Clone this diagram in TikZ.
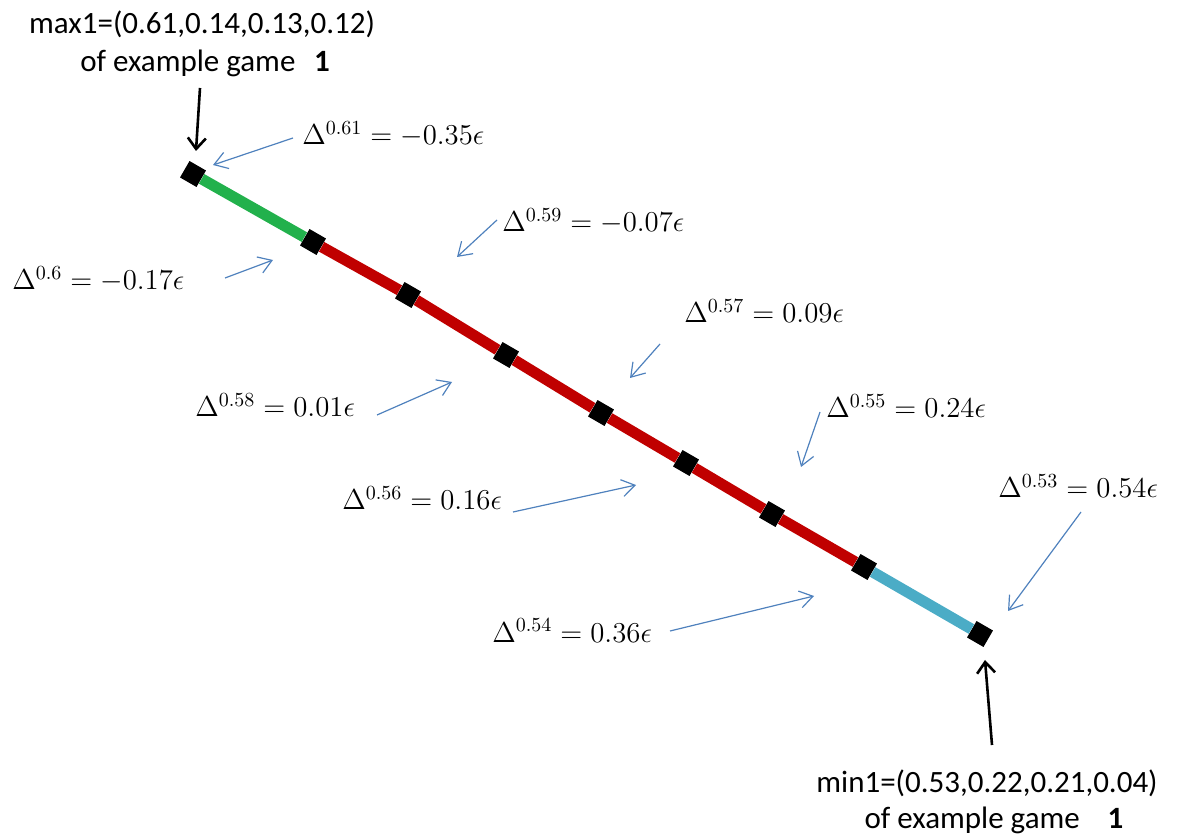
\documentclass[tikz,border=0pt]{standalone}
\usepackage{fontspec}
\newfontfamily\carl{Carlito}
\usetikzlibrary{arrows.meta}
\definecolor{lgreen}{RGB}{34,177,76}
\definecolor{lred}{RGB}{192,0,0}
\definecolor{laqua}{RGB}{75,172,198}
\definecolor{lblue}{RGB}{79,129,189}
\begin{document}
\begin{tikzpicture}[x=0.5pt,y=-0.5pt,
  seg/.style={line width=5.5pt},
  sq/.style={fill=black,minimum size=9.5pt,inner sep=0pt,rotate=-30},
  dlbl/.style={font=\fontsize{14.4}{17}\selectfont,inner sep=0pt,anchor=base west},
  glbl/.style={font=\carl\fontsize{15.5}{19}\selectfont,inner sep=0pt,anchor=base},
  barrow/.style={draw=lblue,line width=0.6pt,-{Straight Barb[length=6.5pt,width=8.5pt]}},
  karrow/.style={draw=black,line width=1.3pt,-{Straight Barb[length=5.5pt,width=9pt,line width=1.3pt]}}]
\useasboundingbox (0,0) rectangle (1177,838);

% squares on the segment
\node[sq] (s1) at (193,174) {};
\node[sq] (s2) at (313,242) {};
\node[sq] (s3) at (408,295) {};
\node[sq] (s4) at (506,355) {};
\node[sq] (s5) at (601,413) {};
\node[sq] (s6) at (686,463) {};
\node[sq] (s7) at (772,514) {};
\node[sq] (s8) at (864,567) {};
\node[sq] (s9) at (980,634) {};

\draw[seg,lgreen] (s1) -- (s2);
\foreach \a/\b in {s2/s3,s3/s4,s4/s5,s5/s6,s6/s7,s7/s8}
  \draw[seg,lred] (\a) -- (\b);
\draw[seg,laqua] (s8) -- (s9);

% top and bottom captions
\node[glbl] (maxA) at (202,34) {max1=(0.61,0.14,0.13,0.12)};
\node[glbl] (maxB) at (205,72) {of example game\hspace{0.6em}\textbf{1}};
\node[glbl] (minA) at (987,792) {min1=(0.53,0.22,0.21,0.04)};
\node[glbl] (minB) at (994,828) {of example game\hspace{0.9em}\textbf{1}};

\coordinate (tA) at (200,88);
\coordinate (tB) at (196,151);
\coordinate (bA) at (992,745);
\coordinate (bB) at (985,660);
\draw[karrow] (tA) -- (tB);
\draw[karrow] (bA) -- (bB);

% delta labels
\node[dlbl] (L61) at (302,145) {$\Delta^{0.61}=-0.35\epsilon$};
\node[dlbl] (L60) at (12,290) {$\Delta^{0.6}=-0.17\epsilon$};
\node[dlbl] (L59) at (502,232) {$\Delta^{0.59}=-0.07\epsilon$};
\node[dlbl] (L57) at (684,323) {$\Delta^{0.57}=0.09\epsilon$};
\node[dlbl] (L58) at (195,417) {$\Delta^{0.58}=0.01\epsilon$};
\node[dlbl] (L55) at (826,418) {$\Delta^{0.55}=0.24\epsilon$};
\node[dlbl] (L56) at (342,510) {$\Delta^{0.56}=0.16\epsilon$};
\node[dlbl] (L53) at (998,498) {$\Delta^{0.53}=0.54\epsilon$};
\node[dlbl] (L54) at (492,642) {$\Delta^{0.54}=0.36\epsilon$};

% blue pointer arrows
\coordinate (a61s) at (293,138); \coordinate (a61t) at (213,165);
\coordinate (a60s) at (225,278); \coordinate (a60t) at (273,260);
\coordinate (a59s) at (497,220); \coordinate (a59t) at (457,257);
\coordinate (a58s) at (377,415); \coordinate (a58t) at (452,382);
\coordinate (a57s) at (660,344); \coordinate (a57t) at (630,378);
\coordinate (a55s) at (820,412); \coordinate (a55t) at (801,467);
\coordinate (a56s) at (513,512); \coordinate (a56t) at (636,485);
\coordinate (a53s) at (1081,512); \coordinate (a53t) at (1008,611);
\coordinate (a54s) at (670,631); \coordinate (a54t) at (814,596);
\foreach \k in {61,60,59,58,57,55,56,53,54}
  \draw[barrow] (a\k s) -- (a\k t);
\end{tikzpicture}
\end{document}
